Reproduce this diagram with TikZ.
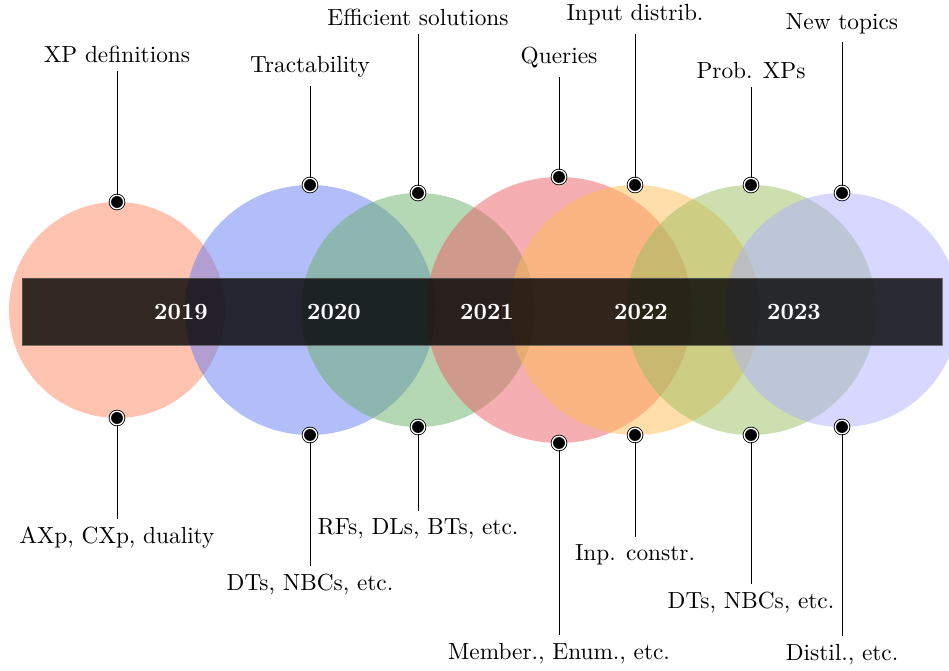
\documentclass[tikz,border=0pt]{standalone}
\usepackage{tikz}
\usepackage{amsmath}

\definecolor{eraA}{RGB}{255,135,95}
\definecolor{eraB}{RGB}{101,125,245}
\definecolor{eraC}{RGB}{105,175,105}
\definecolor{eraD}{RGB}{235,95,101}
\definecolor{eraE}{RGB}{255,189,85}
\definecolor{eraF}{RGB}{155,189,95}
\definecolor{eraG}{RGB}{175,175,255}

\tikzset{
	pinhead/.style = {circle, fill = black, draw = black, double = white, double distance = 0.6pt, line width = 0.35pt, inner sep = 0pt, minimum size = 5.8pt},
	yearbar/.style = {fill = black, fill opacity = 0.8, draw = gray!70!black, draw opacity = 0.8},
	yearlabel/.style = {text = white, font = \bfseries},
}

\begin{document}
\begin{tikzpicture}[x = 0.429pt, y = 0.429pt]
	\useasboundingbox (0, -361) rectangle (949, 310);
	\foreach \x/\r/\c in {117/108/eraA, 310/125/eraB, 418/117/eraC, 559/133/eraD, 635/125/eraE, 751/125/eraF, 842/117/eraG}
	\fill[\c, fill opacity = 0.5] (\x, 0) circle (\r);
	
	\draw[yearbar] (22, -35) rectangle (942, 32);
	\foreach \x/\yr in {181/2019, 334/2020, 487/2021, 641/2022, 794/2023}
	\node[yearlabel] (y\yr) at (\x, -2) {\yr};
	
	\foreach [count = \i] \x/\r/\ty/\by/\up/\down in {
		117/108/256/-228/{XP definitions}/{AXp, CXp, duality},
		310/125/243/-275/{Tractability}/{DTs, NBCs, etc.},
		418/117/293/-219/{Efficient solutions}/{RFs, DLs, BTs, etc.},
		559/133/252/-344/{Queries}/{Member., Enum., etc.},
		635/125/295/-245/{Input distrib.}/{Inp. constr.},
		751/125/239/-293/{Prob. XPs}/{DTs, NBCs, etc.},
		842/117/286/-345/{New topics}/{Distil., etc.}}
	{
	\node[pinhead] (pt\i) at (\x, \r) {};
	\node[pinhead] (pb\i) at (\x, -\r) {};
	\node (lt\i) at (\x, \ty) {\up};
	\node (lb\i) at (\x, \by) {\down};
	\draw (pt\i) -- (lt\i.south);
	\draw (pb\i) -- (lb\i.north);
	}
\end{tikzpicture}
\end{document}
